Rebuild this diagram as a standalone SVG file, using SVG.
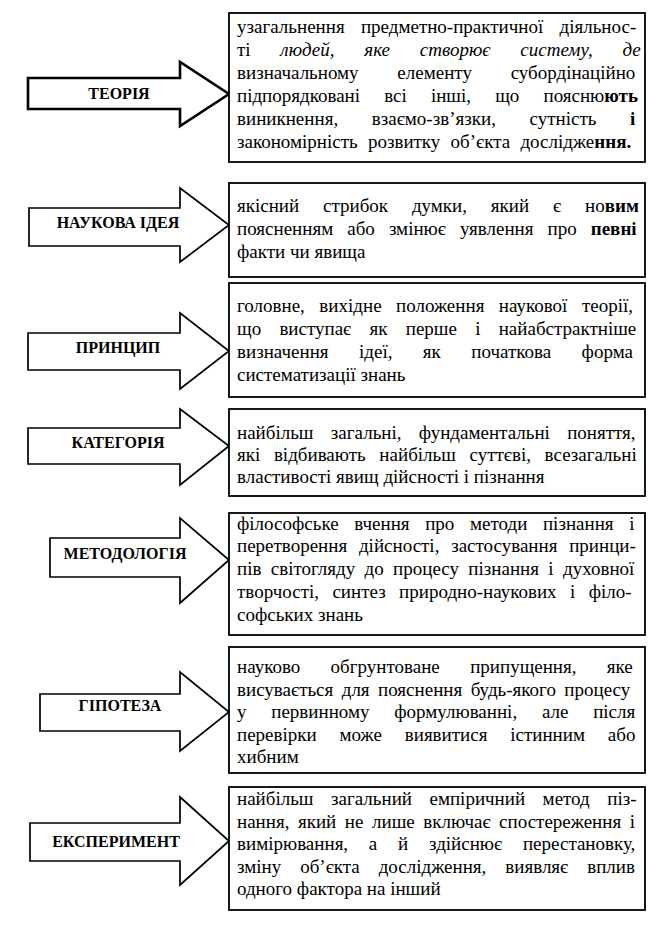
<svg xmlns="http://www.w3.org/2000/svg" width="669" height="936" viewBox="0 0 669 936">
<style>
.box{fill:#fff;stroke:#000;stroke-width:1.8}
.arr{fill:#fff;stroke:#000;stroke-width:1.7;stroke-linejoin:miter}
.lbl{font-family:"Liberation Serif","Times New Roman",serif;font-weight:bold;font-size:16px;text-anchor:middle;fill:#000}
.t{font-family:"Liberation Serif","Times New Roman",serif;font-size:19px;fill:#000}
.b{font-weight:bold}
.i{font-style:italic}
</style>
<rect width="669" height="936" fill="#fff"/>
<g id="connectors"/>

<g id="term-teoriia">
<polygon class="arr" style="stroke-width:2.6" points="28,78 180,78 180,62 229,94 180,126 180,109 28,109"/>
<text class="lbl" x="119" y="99">ТЕОРІЯ</text>
</g>
<g id="def-teoriia">
<rect class="box" x="229" y="13" width="416" height="149"/>
<text class="t" x="237" y="33" word-spacing="11.5">узагальнення предметно-практичної діяльнос-</text>
<text class="t" x="237" y="56" word-spacing="25">ті <tspan class="i">людей, яке створює систему, де</tspan></text>
<text class="t" x="237" y="79" word-spacing="34">визначальному елементу субордінаційно</text>
<text class="t" x="237" y="102" word-spacing="19.4">підпорядковані всі інші, що поясню<tspan class="b">ють</tspan></text>
<text class="t" x="237" y="125" word-spacing="28.9">виникнення, взаємо-зв’язки, сутність <tspan class="b">і</tspan></text>
<text class="t" x="237" y="148" word-spacing="5.5">закономірність розвитку об’єкта дослідже<tspan class="b">ння.</tspan></text>
</g>

<g id="term-naukova-ideia">
<polygon class="arr" points="29,208 180,208 180,188 229,225 180,262 180,246 29,246"/>
<text class="lbl" x="118" y="228">НАУКОВА ІДЕЯ</text>
</g>
<g id="def-naukova-ideia">
<rect class="box" x="229" y="183" width="416" height="94"/>
<text class="t" x="237" y="212" word-spacing="19.1">якісний стрибок думки, який є но<tspan class="b">вим</tspan></text>
<text class="t" x="237" y="235" word-spacing="9.3">поясненням або змінює уявлення про <tspan class="b">певні</tspan></text>
<text class="t" x="237" y="258">факти чи явища</text>
</g>

<g id="term-pryntsyp">
<polygon class="arr" points="28,333 180,333 180,313 229,351 180,389 180,370 28,370"/>
<text class="lbl" x="118" y="353">ПРИНЦИП</text>
</g>
<g id="def-pryntsyp">
<rect class="box" x="229" y="283" width="416" height="114"/>
<text class="t" x="237" y="312" word-spacing="9.75">головне, вихідне положення наукової теорії,</text>
<text class="t" x="237" y="335" word-spacing="13.5">що виступає як перше і найабстрактніше</text>
<text class="t" x="237" y="358" word-spacing="25.7">визначення ідеї, як початкова форма</text>
<text class="t" x="237" y="381">систематизації знань</text>
</g>

<g id="term-katehoriia">
<polygon class="arr" points="28,428 180,428 180,409 229,446 180,485 180,464 28,464"/>
<text class="lbl" x="118" y="448">КАТЕГОРІЯ</text>
</g>
<g id="def-katehoriia">
<rect class="box" x="229" y="409" width="416" height="87"/>
<text class="t" x="237" y="439" word-spacing="12.6">найбільш загальні, фундаментальні поняття,</text>
<text class="t" x="237" y="461" word-spacing="8.9">які відбивають найбільш суттєві, всезагальні</text>
<text class="t" x="237" y="483">властивості явищ дійсності і пізнання</text>
</g>

<g id="term-metodolohiia">
<polygon class="arr" points="50,538 180,538 180,518 229,560 180,603 180,577 50,577"/>
<text class="lbl" x="125" y="559">МЕТОДОЛОГІЯ</text>
</g>
<g id="def-metodolohiia">
<rect class="box" x="229" y="513" width="416" height="122"/>
<text class="t" x="237" y="530" word-spacing="10.9">філософське вчення про методи пізнання і</text>
<text class="t" x="237" y="552" word-spacing="7">перетворення дійсності, застосування принци-</text>
<text class="t" x="237" y="575" word-spacing="4.6">пів світогляду до процесу пізнання і духовної</text>
<text class="t" x="237" y="598" word-spacing="8.7">творчості, синтез природно-наукових і філо-</text>
<text class="t" x="237" y="621">софських знань</text>
</g>

<g id="term-hipoteza">
<polygon class="arr" points="40,694 180,694 180,672 229,712 180,751 180,731 40,731"/>
<text class="lbl" x="120" y="711">ГІПОТЕЗА</text>
</g>
<g id="def-hipoteza">
<rect class="box" x="229" y="647" width="416" height="126"/>
<text class="t" x="237" y="673" word-spacing="25.6">науково обгрунтоване припущення, яке</text>
<text class="t" x="237" y="696" word-spacing="3.7">висувається для пояснення будь-якого процесу</text>
<text class="t" x="237" y="718" word-spacing="20">у первинному формулюванні, але після</text>
<text class="t" x="237" y="741" word-spacing="18.1">перевірки може виявитися істинним або</text>
<text class="t" x="237" y="763">хибним</text>
</g>

<g id="term-eksperyment">
<polygon class="arr" points="30,823 180,823 180,797 229,841 180,885 180,861 30,861"/>
<text class="lbl" x="116" y="847">ЕКСПЕРИМЕНТ</text>
</g>
<g id="def-eksperyment">
<rect class="box" x="229" y="787" width="416" height="123"/>
<text class="t" x="237" y="805" word-spacing="12.75">найбільш загальний емпіричний метод піз-</text>
<text class="t" x="237" y="828" word-spacing="3.8">нання, який не лише включає спостереження і</text>
<text class="t" x="237" y="850" word-spacing="16">вимірювання, а й здійснює перестановку,</text>
<text class="t" x="237" y="873" word-spacing="14.2">зміну об’єкта дослідження, виявляє вплив</text>
<text class="t" x="237" y="895">одного фактора на інший</text>
</g>
</svg>
